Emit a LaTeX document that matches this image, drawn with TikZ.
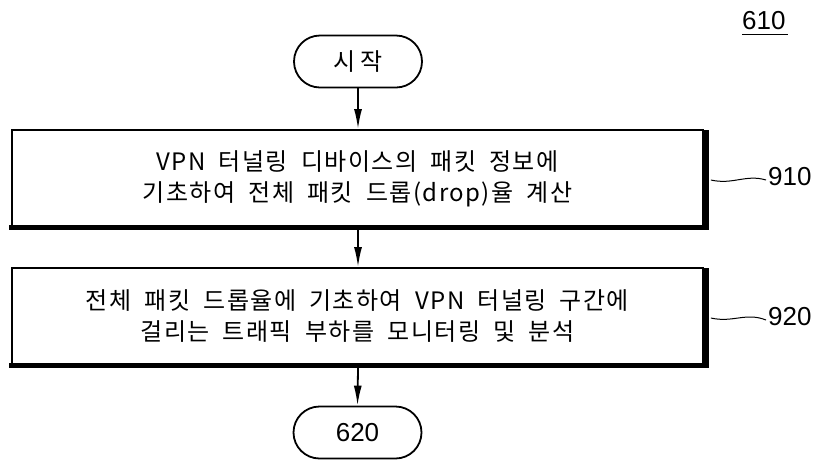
\documentclass[tikz,border=0pt]{standalone}
\usepackage{fontspec}
\setmainfont{Noto Sans CJK KR}
\newfontfamily\krfont[LetterSpace=6]{Noto Sans CJK KR}
\newfontfamily\numfont{Liberation Sans}
\usetikzlibrary{shapes.misc,arrows.meta,calc}
\tikzset{
  term/.style={rounded rectangle, draw, line width=1.8pt, minimum width=128pt, minimum height=52pt, inner sep=0pt},
  procbox/.style={rectangle, draw, line width=1.8pt, minimum width=691pt, minimum height=97pt, inner sep=0pt, align=center,
    font={\krfont\fontsize{24}{31}\selectfont\spaceskip=0.55em\relax}},
  flow/.style={line width=1.8pt, -{Latex[length=20pt,width=8pt]}},
  shadowline/.style={line width=5pt, line cap=rect},
  lead/.style={line width=1pt},
  reflab/.style={font=\numfont\fontsize{26}{30}\selectfont, anchor=west, inner sep=0pt}
}
\begin{document}
\begin{tikzpicture}[x=1pt,y=-1pt]
\useasboundingbox (0,0) rectangle (819,459);
\node[term, font={\krfont\fontsize{24}{28}\selectfont}] (start) at (358,61.5) {시\hspace{5pt}작};
\node[procbox] (b1) at (357.5,178.5) {VPN 터널링 디바이스의 패킷 정보에\\기초하여 전체 패킷 드롭(drop)율 계산};
\node[procbox] (b2) at (357.5,316.5) {전체 패킷 드롭율에 기초하여 VPN 터널링 구간에\\걸리는 트래픽 부하를 모니터링 및 분석};
\node[term, font={\numfont\fontsize{26}{30}\selectfont}] (end) at (357.5,432.5) {620};
% shadows
\draw[shadowline] ($(b1.north east)+(3,3)$) -- ($(b1.south east)+(3,0)$) -- ($(b1.south west)+(0,0)$);
\draw[shadowline] ($(b2.north east)+(3,3)$) -- ($(b2.south east)+(3,0)$) -- ($(b2.south west)+(0,0)$);
% arrows
\draw[flow] (start.south) -- (start.south |- b1.north);
\draw[flow] ($(start.south |- b1.south)+(0,2)$) -- (start.south |- b2.north);
\draw[flow] ($(start.south |- b2.south)+(0,2)$) -- (end.north);
% labels
\node[reflab] (r610) at (742,21) {610};
\draw[line width=1.5pt] ($(r610.south west)+(0,4)$) -- ($(r610.south east)+(2,4)$);
\node[reflab] (r910) at (768,177) {910};
\coordinate (l1) at ($(b1.east)+(7,1.5)$);
\draw[lead] (l1) .. controls ($(l1)+(22,5)$) and ($(l1)+(35,-6)$) .. ($(r910.west)+(-2,3)$);
\node[reflab] (r920) at (768,317) {920};
\coordinate (l2) at ($(b2.east)+(7,1.5)$);
\draw[lead] (l2) .. controls ($(l2)+(22,5)$) and ($(l2)+(35,-6)$) .. ($(r920.west)+(-2,3)$);
\end{tikzpicture}
\end{document}
